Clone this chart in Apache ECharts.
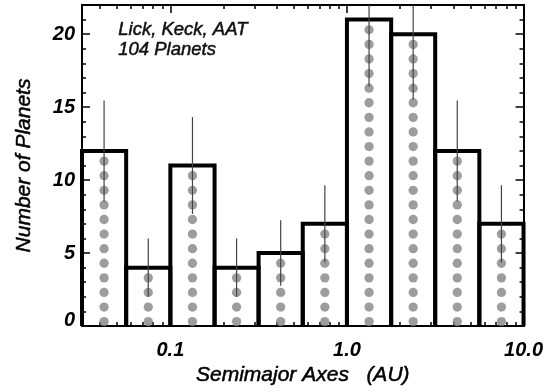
<!DOCTYPE html>
<html><head><meta charset="utf-8">
<script src="https://cdn.jsdelivr.net/npm/echarts@6/dist/echarts.min.js"></script>
<style>html,body{margin:0;padding:0;background:#fff}#c{width:546px;height:392px}</style>
</head><body><div id="c"></div>
<script>
// ---- data ----
const binEdges = [0.0316, 0.0562, 0.1, 0.178, 0.316, 0.562, 1.0, 1.78, 3.16, 5.62, 10];
const counts = [12, 4, 11, 4, 5, 7, 21, 20, 12, 7];
const errors = [3.46, 2.0, 3.32, 2.0, 2.24, 2.65, 4.58, 4.47, 3.46, 2.65];
const xMajorTicks = [0.1, 1, 10];
const xTickLabels = ['0.1', '1.0', '10.0'];
const xMinorTicks = [0.04, 0.05, 0.06, 0.07, 0.08, 0.09, 0.2, 0.3, 0.4, 0.5, 0.6, 0.7, 0.8, 0.9, 2, 3, 4, 5, 6, 7, 8, 9];
const yMajorTicks = [0, 5, 10, 15, 20];
const yMinorTicks = [1, 2, 3, 4, 6, 7, 8, 9, 11, 12, 13, 14, 16, 17, 18, 19, 21];
const annotationLines = ['Lick, Keck, AAT', '104 Planets'];
const dotOffset = 0.3;

const FONT = "'Liberation Sans', Arial, Helvetica, sans-serif";

const barData = counts.map((v, i) => [binEdges[i], binEdges[i + 1], v]);
const centers = counts.map((v, i) => Math.sqrt(binEdges[i] * binEdges[i + 1]));
const dotData = [];
counts.forEach((n, i) => { for (let k = 0; k < n; k++) dotData.push([centers[i], k + dotOffset]); });
const errData = counts.map((v, i) => [centers[i], v - errors[i], v + errors[i]]);

function xLabel(v) {
  for (let i = 0; i < xMajorTicks.length; i++) if (Math.abs(v - xMajorTicks[i]) < 1e-9 * Math.max(1, xMajorTicks[i])) return xTickLabels[i];
  return '';
}
const tickLine = { color: '#000', width: 1.5 };
const axisLine = { show: true, onZero: false, lineStyle: { color: '#000', width: 2 } };
const tickFont = { color: '#000', fontFamily: FONT, fontSize: 20, fontWeight: 'bold', fontStyle: 'italic' };
const titleFont = { color: '#000', fontFamily: FONT, fontSize: 21, fontStyle: 'italic', textBorderColor: '#000', textBorderWidth: 0.5 };
function xAx(pos, ticks, len, labels) {
  return {
    type: 'log', logBase: 10, min: binEdges[0], max: binEdges[binEdges.length - 1], position: pos,
    axisLine: axisLine, splitLine: { show: false }, minorTick: { show: false },
    axisTick: { show: true, inside: true, length: len, customValues: ticks, lineStyle: tickLine },
    axisLabel: labels ? Object.assign({ show: true, customValues: xMajorTicks, formatter: xLabel, margin: 14 }, tickFont) : { show: false },
    name: labels ? 'Semimajor Axes   (AU)' : '', nameLocation: 'middle', nameGap: 31,
    nameTextStyle: titleFont
  };
}
function yAx(pos, ticks, len, labels) {
  return {
    type: 'value', min: 0, max: 22, position: pos,
    axisLine: axisLine, splitLine: { show: false }, minorTick: { show: false },
    axisTick: { show: true, inside: true, length: len, customValues: ticks, lineStyle: tickLine },
    axisLabel: labels ? Object.assign({ show: true, customValues: yMajorTicks, margin: 7,
      formatter: v => v === 0 ? '{z|0}' : String(v), rich: { z: Object.assign({ padding: [0, 0, 12, 0] }, tickFont) } }, tickFont) : { show: false },
    name: labels ? 'Number of Planets' : '', nameLocation: 'middle', nameGap: 47,
    nameTextStyle: titleFont
  };
}

const chart = echarts.init(document.getElementById('c'), null, { renderer: 'canvas' });
chart.setOption({
  animation: false,
  backgroundColor: '#fff',
  grid: { left: 82, right: 21, top: 5, bottom: 66, containLabel: false },
  xAxis: [xAx('bottom', xMajorTicks, 8, true), xAx('bottom', xMinorTicks, 4, false), xAx('top', xMajorTicks, 8, false), xAx('top', xMinorTicks, 4, false)],
  yAxis: [yAx('left', yMajorTicks, 8, true), yAx('left', yMinorTicks, 4, false), yAx('right', yMajorTicks, 8, false), yAx('right', yMinorTicks, 4, false)],
  graphic: annotationLines.map((t, i) => ({
    type: 'text', left: 118, top: 20 + i * 20, z: 100,
    style: { text: t, fill: '#111', font: 'italic 18.5px ' + FONT, stroke: '#111', lineWidth: 0.5 }
  })),
  series: [
    {
      type: 'custom', xAxisIndex: 0, yAxisIndex: 0, data: barData, z: 2, clip: false,
      encode: { x: [0, 1], y: 2 },
      renderItem: function (params, api) {
        const lo = api.value(0), hi = api.value(1), v = api.value(2);
        return {
          type: 'polyline',
          shape: { points: [api.coord([lo, 0]), api.coord([lo, v]), api.coord([hi, v]), api.coord([hi, 0])] },
          style: { stroke: '#000', lineWidth: 4, fill: null, lineJoin: 'miter' }
        };
      }
    },
    {
      type: 'scatter', xAxisIndex: 0, yAxisIndex: 0, data: dotData, z: 3,
      symbol: 'circle', symbolSize: 9.3, itemStyle: { color: '#858585' }, silent: true
    },
    {
      type: 'custom', xAxisIndex: 0, yAxisIndex: 0, data: errData, z: 4, clip: true,
      encode: { x: 0, y: [1, 2] },
      renderItem: function (params, api) {
        const c = api.value(0);
        const a = api.coord([c, api.value(1)]), b = api.coord([c, api.value(2)]);
        return {
          type: 'line', shape: { x1: a[0], y1: a[1], x2: b[0], y2: b[1] },
          style: { stroke: '#444', lineWidth: 1.2 }
        };
      }
    }
  ]
});
</script></body></html>
